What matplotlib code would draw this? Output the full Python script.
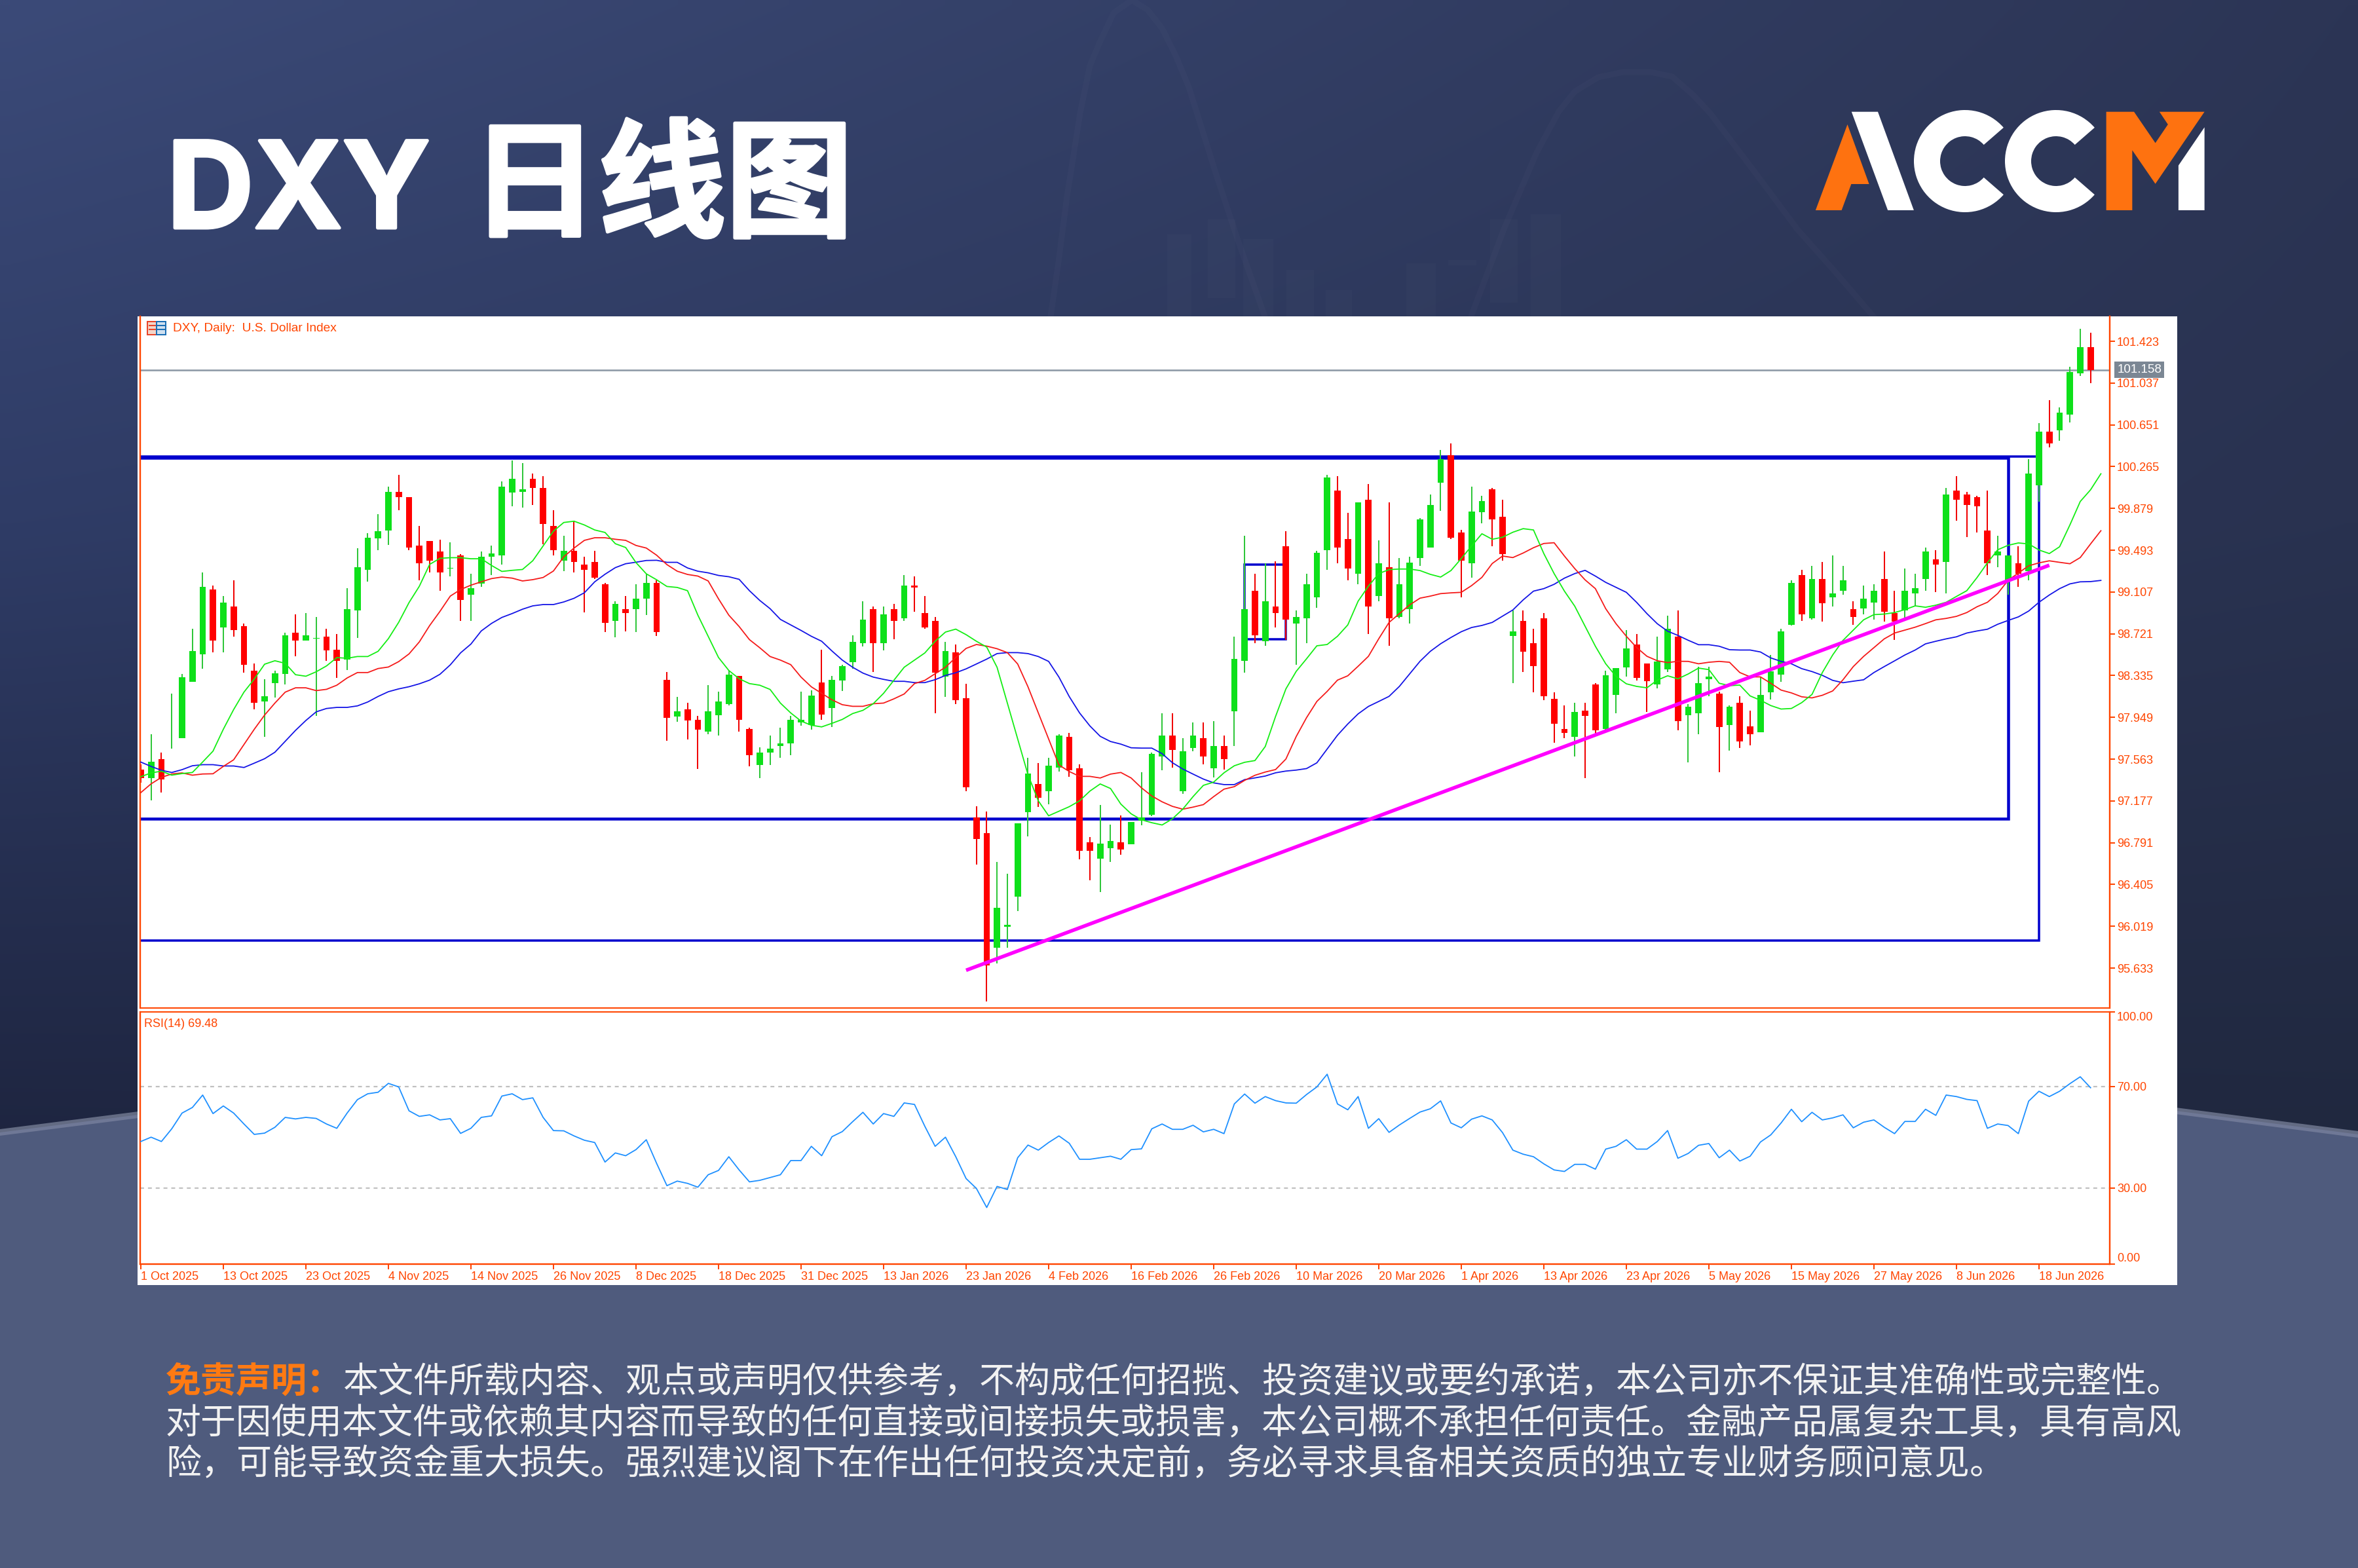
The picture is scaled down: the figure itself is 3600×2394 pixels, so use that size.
import matplotlib
matplotlib.use("Agg")
import matplotlib.patheffects as pe
import matplotlib.pyplot as plt
import numpy as np
from matplotlib.colors import to_rgb
from matplotlib.patches import Polygon, Rectangle, Wedge

W, H = 3600, 2394
ORANGE_RED = "#ff4500"
LOGO_ORANGE = "#fe7210"
CJK = ["Noto Sans CJK SC", "DejaVu Sans"]
AXIS_FONT = "Liberation Sans"

# daily candles, oldest first
opens = [
    97.466, 97.385, 97.563, 97.773, 97.758, 98.277, 98.529, 99.130, 98.781, 98.973,
    98.791, 98.382, 98.095, 98.265, 98.349, 98.733, 98.660, 98.676, 98.694, 98.575,
    98.480, 98.938, 99.314, 99.601, 99.675, 100.032, 99.983, 99.537, 99.576, 99.479,
    99.326, 99.442, 99.083, 99.182, 99.432, 99.444, 100.023, 100.034, 100.152, 100.067,
    99.719, 99.395, 99.490, 99.361, 99.384, 99.180, 98.842, 98.949, 98.951, 99.048,
    99.192, 98.297, 97.954, 98.021, 97.924, 97.819, 97.966, 98.072, 98.333, 97.843,
    97.506, 97.626, 97.687, 97.711, 97.903, 97.879, 98.273, 98.036, 98.288, 98.460,
    98.637, 98.947, 98.637, 98.947, 98.866, 99.164, 98.911, 98.839, 98.327, 98.550,
    98.129, 97.022, 96.877, 95.821, 96.017, 96.290, 97.073, 97.334, 97.268, 97.482,
    97.768, 97.479, 96.793, 96.642, 96.739, 96.793, 96.775, 96.997, 97.049, 97.590,
    97.780, 97.268, 97.664, 97.756, 97.481, 97.684, 98.002, 98.472, 99.117, 98.650,
    98.974, 99.527, 98.816, 98.865, 99.057, 99.492, 100.043, 99.599, 99.275, 99.960,
    99.071, 99.335, 98.877, 98.948, 99.418, 99.516, 100.117, 100.370, 99.659, 99.372,
    99.842, 100.057, 99.803, 98.698, 98.840, 98.634, 98.865, 98.120, 97.842, 97.770,
    98.011, 98.252, 97.842, 98.157, 98.409, 98.624, 98.444, 98.254, 98.395, 98.696,
    97.967, 97.988, 98.301, 98.166, 97.880, 98.083, 97.864, 97.810, 98.183, 98.342,
    98.806, 99.263, 98.866, 99.227, 99.060, 99.119, 98.949, 98.952, 99.011, 99.227,
    98.914, 98.939, 99.095, 99.227, 99.408, 99.384, 100.043, 100.008, 99.983, 99.673,
    99.443, 99.214, 99.371, 99.300, 100.094, 100.586, 100.599, 100.745, 101.128, 101.369,
]
highs = [
    97.516, 97.793, 97.621, 98.168, 98.347, 98.767, 99.285, 99.166, 99.069, 99.215,
    98.813, 98.444, 98.299, 98.382, 98.733, 98.902, 98.912, 98.876, 98.767, 98.718,
    99.140, 99.513, 99.650, 99.828, 100.081, 100.189, 99.983, 99.719, 99.576, 99.588,
    99.564, 99.456, 99.273, 99.479, 99.537, 100.129, 100.321, 100.298, 100.201, 100.178,
    99.863, 99.625, 99.759, 99.430, 99.490, 99.192, 99.020, 99.069, 99.178, 99.273,
    99.213, 98.370, 98.141, 98.081, 97.960, 98.249, 98.189, 98.382, 98.333, 97.855,
    97.671, 97.783, 97.855, 97.960, 98.189, 98.201, 98.574, 98.333, 98.433, 98.707,
    99.022, 98.974, 98.974, 98.998, 99.263, 99.251, 99.071, 98.875, 98.646, 98.622,
    98.261, 97.130, 97.082, 96.615, 96.504, 96.973, 97.575, 97.527, 97.575, 97.792,
    97.804, 97.515, 96.841, 97.142, 96.961, 97.046, 96.985, 97.443, 97.623, 97.987,
    97.987, 97.756, 97.902, 97.902, 97.914, 97.782, 98.696, 99.624, 99.275, 99.370,
    99.393, 99.671, 98.937, 99.275, 99.490, 100.189, 100.178, 99.840, 99.935, 100.104,
    99.587, 99.935, 99.418, 99.430, 99.791, 100.009, 100.418, 100.479, 99.682, 100.080,
    99.997, 100.069, 99.960, 98.937, 98.937, 98.768, 98.914, 98.178, 98.057, 98.083,
    98.083, 98.263, 98.381, 98.407, 98.756, 98.719, 98.444, 98.696, 98.888, 98.937,
    98.072, 98.417, 98.417, 98.188, 98.058, 98.145, 98.012, 98.323, 98.525, 98.766,
    99.217, 99.311, 99.349, 99.384, 99.443, 99.349, 99.022, 99.168, 99.179, 99.479,
    99.119, 99.322, 99.276, 99.516, 99.492, 100.067, 100.178, 100.032, 99.997, 100.043,
    99.624, 99.443, 99.527, 100.332, 100.669, 100.877, 100.815, 101.188, 101.539, 101.501,
]
lows = [
    97.345, 97.180, 97.254, 97.662, 97.758, 98.277, 98.396, 98.551, 98.551, 98.694,
    98.359, 98.023, 97.770, 98.131, 98.253, 98.515, 98.660, 97.964, 98.468, 98.311,
    98.384, 98.684, 99.205, 99.493, 99.539, 99.865, 99.493, 99.217, 99.287, 99.118,
    99.252, 98.842, 98.842, 99.157, 99.263, 99.361, 99.900, 99.888, 99.911, 99.548,
    99.444, 99.300, 99.287, 98.916, 99.226, 98.736, 98.687, 98.745, 98.736, 98.893,
    98.699, 97.735, 97.906, 97.747, 97.470, 97.795, 97.783, 98.060, 97.819, 97.494,
    97.386, 97.506, 97.578, 97.602, 97.870, 97.834, 97.927, 97.858, 98.192, 98.400,
    98.601, 98.370, 98.565, 98.673, 98.842, 98.926, 98.770, 97.987, 98.141, 98.072,
    97.265, 96.591, 95.327, 95.676, 95.821, 96.158, 96.847, 97.121, 97.145, 97.446,
    97.398, 96.639, 96.447, 96.338, 96.615, 96.678, 96.775, 96.952, 97.037, 97.458,
    97.482, 97.240, 97.638, 97.518, 97.397, 97.469, 97.687, 98.363, 98.636, 98.613,
    98.779, 98.664, 98.432, 98.636, 98.960, 99.312, 99.372, 99.215, 99.180, 98.719,
    99.022, 98.613, 98.867, 98.816, 99.347, 99.516, 99.854, 99.599, 99.057, 99.240,
    99.742, 99.527, 99.395, 98.265, 98.370, 98.180, 98.108, 97.712, 97.759, 97.590,
    97.386, 97.793, 97.830, 97.988, 98.323, 98.289, 97.999, 98.217, 98.370, 97.830,
    97.532, 97.796, 98.147, 97.440, 97.640, 97.664, 97.688, 97.810, 98.112, 98.277,
    98.795, 98.841, 98.855, 98.831, 98.976, 99.084, 98.806, 98.903, 98.855, 98.831,
    98.663, 98.866, 98.971, 99.119, 99.109, 99.095, 99.767, 99.614, 99.659, 99.263,
    99.335, 99.084, 99.155, 99.217, 99.938, 100.442, 100.505, 100.672, 101.104, 101.034,
]
closes = [
    97.385, 97.537, 97.375, 97.777, 98.321, 98.563, 99.154, 98.660, 99.009, 98.757,
    98.434, 98.083, 98.142, 98.357, 98.706, 98.660, 98.706, 98.680, 98.565, 98.468,
    98.948, 99.334, 99.611, 99.671, 100.032, 99.986, 99.518, 99.372, 99.395, 99.287,
    99.331, 99.036, 99.143, 99.430, 99.465, 100.081, 100.152, 100.053, 100.069, 99.733,
    99.493, 99.490, 99.384, 99.312, 99.240, 98.819, 98.997, 98.914, 99.046, 99.189,
    98.736, 97.942, 98.008, 97.918, 97.834, 98.008, 98.093, 98.345, 97.927, 97.602,
    97.623, 97.659, 97.708, 97.927, 97.927, 98.153, 97.975, 98.297, 98.421, 98.646,
    98.851, 98.637, 98.899, 98.842, 99.164, 99.146, 98.782, 98.361, 98.562, 98.108,
    97.301, 96.823, 95.658, 96.191, 96.035, 96.973, 97.431, 97.205, 97.503, 97.780,
    97.458, 96.715, 96.715, 96.781, 96.805, 96.727, 96.985, 97.022, 97.611, 97.780,
    97.650, 97.633, 97.779, 97.590, 97.684, 97.566, 98.490, 98.948, 98.708, 99.022,
    98.914, 98.854, 98.877, 99.180, 99.467, 100.166, 99.518, 99.323, 99.935, 98.974,
    99.370, 98.865, 99.180, 99.381, 99.780, 99.911, 100.335, 99.611, 99.398, 99.851,
    99.948, 99.780, 99.455, 98.742, 98.553, 98.421, 98.143, 97.890, 97.805, 97.999,
    97.962, 97.830, 98.335, 98.407, 98.587, 98.312, 98.286, 98.467, 98.768, 97.914,
    98.048, 98.264, 98.323, 97.859, 98.048, 97.724, 97.796, 98.156, 98.372, 98.741,
    99.192, 98.903, 99.227, 99.001, 99.095, 99.214, 98.879, 99.047, 99.119, 98.925,
    98.831, 99.119, 99.144, 99.479, 99.360, 100.008, 99.962, 99.911, 99.900, 99.371,
    99.479, 99.443, 99.273, 100.199, 100.586, 100.480, 100.766, 101.139, 101.369, 101.158,
]

# moving averages run one bar past the last candle
ma_fast = [
    97.401, 97.436, 97.452, 97.415, 97.430, 97.440, 97.537, 97.637, 97.839, 98.021,
    98.182, 98.303, 98.440, 98.472, 98.448, 98.343, 98.329, 98.370, 98.424, 98.501,
    98.495, 98.511, 98.511, 98.559, 98.676, 98.827, 99.009, 99.160, 99.362, 99.418,
    99.424, 99.424, 99.414, 99.414, 99.352, 99.297, 99.307, 99.315, 99.396, 99.533,
    99.669, 99.749, 99.761, 99.726, 99.680, 99.657, 99.553, 99.518, 99.379, 99.275,
    99.220, 99.158, 99.149, 99.119, 98.893, 98.698, 98.502, 98.382, 98.306, 98.261,
    98.246, 98.207, 98.081, 97.990, 97.915, 97.876, 97.861, 97.894, 97.930, 97.984,
    98.014, 98.075, 98.171, 98.291, 98.412, 98.478, 98.544, 98.652, 98.737, 98.764,
    98.713, 98.652, 98.598, 98.412, 98.081, 97.750, 97.419, 97.178, 97.040, 97.082,
    97.124, 97.178, 97.268, 97.334, 97.292, 97.148, 97.058, 97.003, 96.976, 96.955,
    97.012, 97.101, 97.217, 97.321, 97.351, 97.437, 97.502, 97.534, 97.550, 97.680,
    97.958, 98.212, 98.374, 98.490, 98.610, 98.622, 98.698, 98.803, 99.022, 99.161,
    99.277, 99.314, 99.319, 99.319, 99.305, 99.270, 99.245, 99.305, 99.416, 99.532,
    99.645, 99.594, 99.613, 99.659, 99.692, 99.680, 99.462, 99.277, 99.115, 98.976,
    98.791, 98.606, 98.444, 98.328, 98.259, 98.235, 98.222, 98.293, 98.333, 98.305,
    98.350, 98.404, 98.390, 98.264, 98.242, 98.247, 98.147, 98.107, 98.058, 98.026,
    98.031, 98.085, 98.161, 98.363, 98.525, 98.660, 98.755, 98.850, 98.898, 98.903,
    98.917, 98.944, 98.979, 98.966, 98.985, 99.012, 99.066, 99.119, 99.241, 99.376,
    99.497, 99.538, 99.560, 99.551, 99.495, 99.462, 99.525, 99.727, 99.943, 100.051,
    100.199,
]
ma_mid = [
    97.254, 97.335, 97.395, 97.426, 97.436, 97.415, 97.426, 97.428, 97.496, 97.557,
    97.698, 97.839, 97.970, 98.081, 98.182, 98.222, 98.222, 98.196, 98.208, 98.246,
    98.313, 98.363, 98.363, 98.400, 98.414, 98.464, 98.535, 98.646, 98.797, 98.928,
    99.069, 99.130, 99.170, 99.201, 99.231, 99.245, 99.235, 99.209, 99.221, 99.241,
    99.301, 99.432, 99.513, 99.584, 99.608, 99.608, 99.594, 99.584, 99.537, 99.513,
    99.447, 99.360, 99.299, 99.269, 99.254, 99.209, 99.044, 98.893, 98.788, 98.667,
    98.592, 98.511, 98.478, 98.436, 98.321, 98.231, 98.171, 98.111, 98.066, 98.051,
    98.051, 98.075, 98.081, 98.120, 98.165, 98.261, 98.291, 98.352, 98.412, 98.502,
    98.586, 98.622, 98.607, 98.583, 98.547, 98.442, 98.231, 97.990, 97.750, 97.509,
    97.449, 97.404, 97.404, 97.389, 97.425, 97.440, 97.389, 97.298, 97.223, 97.169,
    97.127, 97.101, 97.120, 97.143, 97.217, 97.286, 97.309, 97.367, 97.414, 97.444,
    97.467, 97.564, 97.772, 97.946, 98.096, 98.189, 98.293, 98.333, 98.421, 98.513,
    98.675, 98.826, 98.907, 98.988, 99.050, 99.069, 99.092, 99.099, 99.104, 99.166,
    99.242, 99.370, 99.439, 99.425, 99.467, 99.516, 99.555, 99.562, 99.439, 99.323,
    99.219, 99.138, 98.953, 98.814, 98.698, 98.594, 98.513, 98.472, 98.455, 98.467,
    98.466, 98.444, 98.458, 98.466, 98.458, 98.363, 98.323, 98.323, 98.264, 98.201,
    98.175, 98.139, 98.129, 98.153, 98.193, 98.296, 98.418, 98.512, 98.593, 98.674,
    98.728, 98.755, 98.782, 98.815, 98.850, 98.863, 98.882, 98.917, 98.971, 99.012,
    99.093, 99.214, 99.282, 99.349, 99.376, 99.395, 99.381, 99.368, 99.425, 99.551,
    99.673,
]
ma_slow = [
    97.536, 97.496, 97.460, 97.440, 97.466, 97.502, 97.512, 97.512, 97.500, 97.500,
    97.486, 97.526, 97.567, 97.627, 97.728, 97.829, 97.920, 98.000, 98.031, 98.041,
    98.041, 98.055, 98.091, 98.142, 98.186, 98.212, 98.232, 98.259, 98.293, 98.347,
    98.434, 98.545, 98.626, 98.747, 98.817, 98.872, 98.908, 98.948, 98.979, 98.991,
    98.991, 99.015, 99.049, 99.100, 99.201, 99.271, 99.332, 99.368, 99.382, 99.398,
    99.400, 99.381, 99.381, 99.329, 99.299, 99.284, 99.260, 99.248, 99.224, 99.119,
    99.029, 98.953, 98.854, 98.803, 98.752, 98.698, 98.652, 98.562, 98.478, 98.412,
    98.358, 98.321, 98.300, 98.282, 98.282, 98.270, 98.270, 98.297, 98.336, 98.361,
    98.397, 98.442, 98.487, 98.538, 98.547, 98.547, 98.538, 98.511, 98.466, 98.321,
    98.141, 97.990, 97.870, 97.774, 97.726, 97.702, 97.668, 97.665, 97.665, 97.614,
    97.530, 97.472, 97.425, 97.379, 97.344, 97.328, 97.328, 97.374, 97.390, 97.407,
    97.437, 97.453, 97.462, 97.476, 97.529, 97.657, 97.784, 97.888, 97.981, 98.050,
    98.096, 98.143, 98.235, 98.351, 98.467, 98.559, 98.629, 98.687, 98.740, 98.779,
    98.798, 98.826, 98.884, 98.941, 99.034, 99.115, 99.138, 99.178, 99.235, 99.277,
    99.307, 99.254, 99.196, 99.150, 99.104, 99.011, 98.907, 98.814, 98.745, 98.706,
    98.661, 98.620, 98.620, 98.606, 98.574, 98.571, 98.571, 98.553, 98.498, 98.466,
    98.444, 98.399, 98.372, 98.337, 98.291, 98.269, 98.283, 98.296, 98.363, 98.418,
    98.471, 98.525, 98.571, 98.628, 98.652, 98.674, 98.693, 98.728, 98.747, 98.763,
    98.809, 98.844, 98.877, 98.931, 99.012, 99.079, 99.138, 99.182, 99.201, 99.203,
    99.214,
]
rsi = [
    48.3, 50.0, 48.3, 53.3, 59.5, 61.7, 66.6, 59.3, 62.3, 59.5,
    55.2, 51.1, 51.6, 53.9, 57.8, 57.2, 57.8, 57.4, 55.2, 53.5,
    59.5, 64.8, 67.1, 67.7, 71.2, 69.8, 60.4, 58.2, 58.8, 56.8,
    57.3, 51.5, 53.5, 57.8, 58.4, 66.2, 67.1, 64.8, 65.5, 57.8,
    52.6, 52.5, 50.5, 48.8, 47.9, 40.2, 43.8, 42.7, 45.1, 49.0,
    39.7, 30.9, 32.7, 31.8, 30.3, 35.2, 36.9, 42.3, 37.1, 32.4,
    33.0, 34.1, 35.2, 40.8, 40.8, 46.4, 42.7, 50.2, 52.2, 56.1,
    59.8, 55.2, 59.3, 58.2, 63.5, 62.9, 54.3, 46.4, 50.0, 42.3,
    33.7, 29.8, 22.3, 30.6, 29.4, 41.9, 46.9, 44.9, 47.9, 50.5,
    47.6, 41.3, 41.3, 41.9, 42.5, 41.3, 45.1, 45.4, 53.3, 55.2,
    53.1, 53.1, 54.7, 52.1, 53.1, 51.4, 63.1, 67.0, 63.4, 66.0,
    64.4, 63.5, 63.4, 66.8, 69.8, 74.8, 63.1, 60.8, 66.0, 53.5,
    57.3, 51.9, 54.8, 57.4, 59.9, 61.2, 64.3, 55.6, 53.7, 57.1,
    58.4, 56.8, 51.8, 44.9, 43.3, 42.3, 39.5, 37.1, 36.5, 39.3,
    39.3, 37.4, 45.3, 46.4, 49.0, 45.3, 45.3, 48.3, 52.6, 41.7,
    43.6, 46.8, 47.5, 41.9, 44.9, 40.6, 42.5, 48.1, 50.9, 55.6,
    61.0, 56.1, 59.8, 56.8, 57.6, 58.8, 53.7, 55.9, 56.8, 53.9,
    51.4, 56.2, 56.2, 61.0, 58.6, 66.6, 66.0, 64.9, 64.4, 53.5,
    55.2, 54.6, 51.4, 64.2, 68.1, 66.0, 68.1, 71.1, 73.8, 69.48,
]

price_ticks = [
    101.423, 101.037, 100.651, 100.265, 99.879, 99.493, 99.107, 98.721,
    98.335, 97.949, 97.563, 97.177, 96.791, 96.405, 96.019, 95.633,
]
rsi_ticks = [100, 70, 30, 0]
date_labels = [
    "1 Oct 2025", "13 Oct 2025", "23 Oct 2025", "4 Nov 2025", "14 Nov 2025", "26 Nov 2025",
    "8 Dec 2025", "18 Dec 2025", "31 Dec 2025", "13 Jan 2026", "23 Jan 2026", "4 Feb 2026",
    "16 Feb 2026", "26 Feb 2026", "10 Mar 2026", "20 Mar 2026", "1 Apr 2026", "13 Apr 2026",
    "23 Apr 2026", "5 May 2026", "15 May 2026", "27 May 2026", "8 Jun 2026", "18 Jun 2026",
]
BARS_PER_DATE = 8
last_price = 101.158

# hand-drawn objects on the chart: first/last bar, top/bottom price, line width in px
box_bars = [(-1, 181), (-1, 184), (107, 111)]
box_prices = [(100.348, 97.012), (100.356, 95.890), (99.363, 98.673)]
box_widths = [4.5, 3.5, 3.5]
trend_bars = [80, 185]
trend_prices = [95.613, 99.354]

disclaimer_head = "免责声明："
disclaimer_lines = [
    "本文件所载内容、观点或声明仅供参考，不构成任何招揽、投资建议或要约承诺，本公司亦不保证其准确性或完整性。",
    "对于因使用本文件或依赖其内容而导致的任何直接或间接损失或损害，本公司概不承担任何责任。金融产品属复杂工具，具有高风",
    "险，可能导致资金重大损失。强烈建议阁下在作出任何投资决定前，务必寻求具备相关资质的独立专业财务顾问意见。",
]


def px(value):
    # line widths are thought of in output pixels
    return value * 72 / 100


def axes_from_pixels(fig, left, top, right, bottom):
    return fig.add_axes([left / W, 1 - bottom / H, (right - left) / W, (bottom - top) / H])


def style_spines(ax, hide_top=False):
    for spine in ax.spines.values():
        spine.set_color(ORANGE_RED)
        spine.set_linewidth(px(2.4))
    ax.spines["top"].set_visible(not hide_top)
    ax.tick_params(colors=ORANGE_RED, width=px(2), length=px(8))
    for label in ax.get_xticklabels() + ax.get_yticklabels():
        label.set_fontfamily(AXIS_FONT)
        label.set_fontsize(13)
        label.set_color(ORANGE_RED)


def draw_background(bg):
    # diagonal navy wash, darkest just above the lower band
    stops_y = [0, 800, 1750]
    left_cols = [to_rgb(c) for c in ("#3b4a78", "#2f3c66", "#1e2540")]
    right_cols = [to_rgb(c) for c in ("#2c3555", "#293250", "#20283f")]
    ys = np.linspace(0, 1750, 120)
    xs = np.linspace(0, 1, 120)
    wash = np.zeros((120, 120, 3))
    for ch in range(3):
        lcol = np.interp(ys, stops_y, [c[ch] for c in left_cols])
        rcol = np.interp(ys, stops_y, [c[ch] for c in right_cols])
        wash[:, :, ch] = np.outer(lcol, 1 - xs) + np.outer(rcol, xs)
    bg.imshow(wash, extent=(0, W, 1750, 0), aspect="auto", interpolation="bilinear", zorder=0)

    # faint watermark curves and bars in the header
    curve_a = [(1604, 483), (1616, 400), (1629, 300), (1649, 173), (1664, 100), (1678, 67), (1700, 20),
               (1728, 0), (1752, 15), (1774, 43), (1795, 85), (1815, 133), (1857, 267), (1890, 367), (1931, 483)]
    curve_b = [(2246, 483), (2296, 350), (2346, 233), (2380, 170), (2404, 140), (2440, 118), (2478, 110),
               (2520, 110), (2553, 117), (2585, 145), (2611, 173), (2677, 260), (2744, 350), (2800, 413), (2860, 483)]
    for curve in (curve_a, curve_b):
        xs_c, ys_c = zip(*curve)
        bg.plot(xs_c, ys_c, color="white", alpha=0.02, lw=px(9), zorder=0.5)
    ghost_bars = [(1782, 1819, 358, 483), (1844, 1886, 335, 455), (1898, 1944, 365, 483),
                  (1964, 2006, 412, 483), (2024, 2064, 443, 483), (2147, 2192, 402, 483),
                  (2211, 2254, 397, 405), (2275, 2317, 335, 462), (2337, 2383, 327, 483)]
    for x0, x1, y0, y1 in ghost_bars:
        bg.add_patch(Rectangle((x0, y0), x1 - x0, y1 - y0, fc="white", alpha=0.014, ec="none", zorder=0.5))

    # lower band with its two lighter edge strips
    for offset, colour in ((0, "#636b83"), (5, "#6f7896"), (10, "#4f5b7d")):
        bg.add_patch(Polygon(
            [(0, 1724 + offset), (1800, 1494 + offset), (W, 1727 + offset), (W, H), (0, H)],
            closed=True, fc=colour, ec="none", zorder=1,
        ))

    bg.add_patch(Rectangle((210, 483), 3114, 1479, fc="white", ec="none", zorder=2))


def draw_logo(bg):
    to_px = lambda pts: [(2700 + x / 2.24, 130 + y / 3) for x, y in pts]
    orange_parts = [
        [(161, 573), (270, 180), (344, 453), (283, 453), (250, 573)],
        [(1155, 122), (1250, 122), (1323, 265), (1366, 180), (1337, 122), (1491, 122),
         (1323, 452), (1244, 298), (1244, 573), (1155, 573)],
    ]
    white_parts = [
        [(284, 122), (374, 122), (497, 573), (408, 573)],
        [(1402, 368), (1491, 193), (1491, 573), (1402, 573)],
    ]
    for pts in orange_parts:
        bg.add_patch(Polygon(to_px(pts), closed=True, fc=LOGO_ORANGE, ec="none", zorder=3))
    for pts in white_parts:
        bg.add_patch(Polygon(to_px(pts), closed=True, fc="white", ec="none", zorder=3))
    for cx in (3000, 3139):
        bg.add_patch(Wedge((cx, 246), 78, 41, 319, width=40, fc="white", ec="none", zorder=3))


def draw_texts(bg):
    heavy = [pe.withStroke(linewidth=px(5), foreground="white")]
    bg.text(255, 348, "DXY", family="Inter", fontsize=132, fontweight="bold", color="white",
            ha="left", va="baseline", zorder=3, path_effects=heavy)
    bg.text(719, 289, "日线图", family=CJK, fontsize=140, fontweight="bold", color="white",
            ha="left", va="center", zorder=3, path_effects=heavy)

    bg.text(253, 2110, disclaimer_head, family=CJK, fontsize=38.9, fontweight="bold",
            color="#ff7a12", ha="left", va="center", zorder=3)
    starts = [523, 253, 253]
    for x0, y0, line in zip(starts, (2110, 2173, 2236), disclaimer_lines):
        bg.text(x0, y0, line, family=CJK, fontsize=38.9, color="#f2f2f2",
                ha="left", va="center", zorder=3)


def draw_price_panel(ax):
    bars = np.arange(len(closes))
    op, hi, lo, cl = map(np.array, (opens, highs, lows, closes))
    up = cl >= op

    for (b0, b1), (top, bottom), width in zip(box_bars, box_prices, box_widths):
        ax.add_patch(Rectangle((b0, bottom), b1 - b0, top - bottom, fill=False,
                               ec="#0000cd", lw=px(width), zorder=1))
    ax.axhline(last_price, color="#8d99a6", lw=px(2.6), zorder=1.5)

    ax.vlines(bars[up], lo[up], hi[up], color="#2fc63a", lw=px(2), zorder=2)
    ax.vlines(bars[~up], lo[~up], hi[~up], color="#f00000", lw=px(2), zorder=2)
    ax.bar(bars[up], (cl - op)[up], bottom=op[up], width=0.62, color="#0ee01a", lw=0, zorder=2.1)
    ax.bar(bars[~up], (op - cl)[~up], bottom=cl[~up], width=0.62, color="#ff0000", lw=0, zorder=2.1)

    ma_bars = np.arange(len(ma_fast))
    ax.plot(ma_bars, ma_slow, color="#1414e6", lw=px(1.8), zorder=3)
    ax.plot(ma_bars, ma_mid, color="#f51a1a", lw=px(1.8), zorder=3)
    ax.plot(ma_bars, ma_fast, color="#14ee14", lw=px(1.8), zorder=3)
    ax.plot(trend_bars, trend_prices, color="#ff00ff", lw=px(5.5), solid_capstyle="butt", zorder=4)

    ax.set_xlim(-0.06, 190.86)
    ax.set_ylim(95.2645, 101.653)
    ax.set_xticks([])
    ax.yaxis.tick_right()
    ax.set_yticks(price_ticks)
    ax.set_yticklabels([f"{p:.3f}" for p in price_ticks])
    style_spines(ax, hide_top=True)
    ax.spines["bottom"].set_linewidth(px(2))
    ax.tick_params(axis="y", pad=px(3))

    tag = ax.get_yaxis_transform()
    ax.text(1.0037, last_price, f"{last_price:.3f}", transform=tag, family=AXIS_FONT, fontsize=13.6,
            color="white", ha="left", va="center", zorder=6, clip_on=False,
            bbox=dict(fc="#7b8794", ec="none", boxstyle="square,pad=0.22"))


def draw_rsi_panel(ax):
    ax.plot(np.arange(len(rsi)), rsi, color="#1e90ff", lw=px(1.8), zorder=3)
    for level in (70, 30):
        ax.axhline(level, color="#c0c0c0", lw=px(2.2), dashes=(2.7, 2.7), dash_capstyle="butt", zorder=1)

    ax.set_xlim(-0.06, 190.86)
    ax.set_ylim(0, 99.35)
    date_pos = np.arange(len(date_labels)) * BARS_PER_DATE
    ax.set_xticks(date_pos)
    ax.set_xticklabels(date_labels, ha="left")
    ax.yaxis.tick_right()
    ax.set_yticks([min(t, 99.35) for t in rsi_ticks])
    ax.set_yticklabels([f"{t:.2f}" for t in rsi_ticks])
    style_spines(ax)
    ax.spines["top"].set_linewidth(px(2))
    ax.tick_params(axis="x", pad=px(3))
    ax.tick_params(axis="y", pad=px(3))
    labels = ax.get_yticklabels()
    labels[0].set_verticalalignment("top")
    labels[-1].set_verticalalignment("bottom")


def draw_panel_captions(top):
    top.text(264, 501, "DXY, Daily:  U.S. Dollar Index", family=AXIS_FONT, fontsize=13.8,
             color=ORANGE_RED, ha="left", va="center")
    top.text(220, 1563, "RSI(14) 69.48", family=AXIS_FONT, fontsize=13,
             color=ORANGE_RED, ha="left", va="center")
    # small chart icon beside the symbol name
    top.add_patch(Rectangle((225, 491), 14, 20, fc="#f4d5c8", ec="#e8452a", lw=px(2)))
    top.add_patch(Rectangle((239, 491), 14, 20, fc="#cfe0f0", ec="#1c6fb5", lw=px(2)))
    for y in (497, 503):
        top.plot([228, 237], [y, y], color="#e8452a", lw=px(2))
        top.plot([241, 251], [y, y], color="#1c6fb5", lw=px(2))


def main():
    fig = plt.figure(figsize=(W / 100, H / 100), dpi=100)
    bg = fig.add_axes([0, 0, 1, 1])
    draw_background(bg)
    draw_logo(bg)
    draw_texts(bg)
    bg.set_xlim(0, W)
    bg.set_ylim(H, 0)
    bg.axis("off")

    price_ax = axes_from_pixels(fig, 214, 483, 3221, 1539)
    draw_price_panel(price_ax)
    rsi_ax = axes_from_pixels(fig, 214, 1545, 3221, 1930)
    draw_rsi_panel(rsi_ax)

    top = fig.add_axes([0, 0, 1, 1], facecolor="none")
    draw_panel_captions(top)
    top.set_xlim(0, W)
    top.set_ylim(H, 0)
    top.axis("off")

    fig.savefig("out.png", dpi=100)
    plt.close(fig)
    print("Saved out.png")


if __name__ == "__main__":
    main()
